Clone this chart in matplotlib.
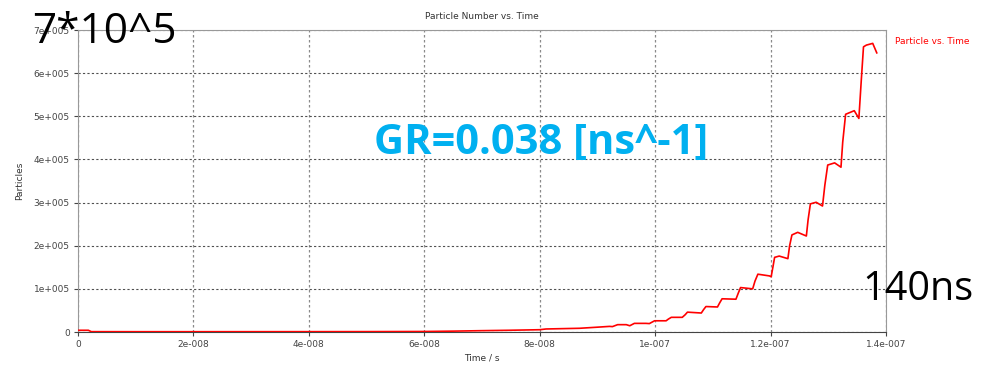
import numpy as np
import matplotlib
matplotlib.use("Agg")
import matplotlib.pyplot as plt

# time in ns, particle count
time_ns = [0, 1.8, 2.3, 10, 20, 30, 40, 50, 60, 65, 69.5, 74.7, 80, 81.1, 86.9,
           89.8, 92.1, 92.6, 93.5, 95.0, 95.6, 96.4, 98.4, 99.0, 99.9, 101.9,
           102.3, 102.8, 104.7, 105.2, 105.6, 108.0, 108.4, 108.8, 110.8, 111.2,
           111.6, 114.0, 114.4, 114.8, 116.9, 117.3, 117.8, 119.8, 120.1, 120.4,
           120.7, 121.5, 123.0, 123.3, 123.7, 124.7, 126.2, 126.5, 126.9, 127.9,
           129.0, 129.4, 129.9, 131.1, 132.2, 132.5, 133.0, 134.5, 135.3, 135.7,
           136.1, 136.6, 137.7, 138.4]
particles = [4000, 4000, 800, 700, 700, 750, 800, 900, 1200, 2000, 3000, 4000,
             5300, 7000, 8600, 11000, 13000, 12500, 17000, 17000, 14500, 20000,
             20000, 19500, 26000, 26000, 30000, 34000, 34000, 40000, 46000, 44000,
             52000, 59000, 58000, 68000, 77000, 76000, 90000, 103000, 100000,
             118000, 134000, 130000, 128000, 150000, 173000, 176000, 170000,
             200000, 225000, 231000, 222500, 260000, 297000, 300700, 292000,
             340000, 387000, 392000, 382000, 440000, 504600, 513000, 495000,
             580000, 661000, 665000, 669000, 647000]

t = np.array(time_ns) * 1e-9
p = np.array(particles)

x_ticks = [0, 2e-8, 4e-8, 6e-8, 8e-8, 1e-7, 1.2e-7, 1.4e-7]
x_labels = ["0", "2e-008", "4e-008", "6e-008", "8e-008", "1e-007", "1.2e-007", "1.4e-007"]
y_ticks = [0, 1e5, 2e5, 3e5, 4e5, 5e5, 6e5, 7e5]
y_labels = ["0", "1e+005", "2e+005", "3e+005", "4e+005", "5e+005", "6e+005", "7e+005"]

fig = plt.figure(figsize=(9.82, 3.71), dpi=100)
ax = fig.add_axes([78 / 982, 39 / 371, 808 / 982, 302 / 371])

ax.plot(t, p, color="red", lw=1.2, zorder=3)

ax.set_xlim(0, 1.4e-7)
ax.set_ylim(0, 7e5)
ax.set_xticks(x_ticks)
ax.set_xticklabels(x_labels)
ax.set_yticks(y_ticks)
ax.set_yticklabels(y_labels)
ax.tick_params(labelsize=6.5, length=3, width=0.8, colors="#444444", pad=3)
ax.xaxis.grid(True, color="#8a8a8a", linestyle=(0, (2, 2)), lw=0.9)
ax.yaxis.grid(True, color="#505050", linestyle=(0, (2, 2)), lw=0.8)

for s in ["top", "right", "left"]:
    ax.spines[s].set_color("#999999")
ax.spines["bottom"].set_color("#444444")

ax.set_title("Particle Number vs. Time", fontsize=6.5, color="#333333", pad=8)
ax.set_xlabel("Time / s", fontsize=6.5, color="#333333", labelpad=3)
ax.set_ylabel("Particles", fontsize=6.5, color="#333333", labelpad=7)

fig.text(895 / 982, 1 - 41 / 371, "Particle vs. Time", color="red", fontsize=6.5,
         va="center", ha="left")

fig.text(32 / 982, 1 - 32 / 371, "7*10^5", fontsize=30.5, family="Open Sans",
         va="center", ha="left", color="black")
fig.text(541 / 982, 1 - 144 / 371, "GR=0.038 [ns^-1]", fontsize=30,
         family="Open Sans", weight="bold", color="#00B0F0", va="center", ha="center")
fig.text(862 / 982, 1 - 290 / 371, "140ns", fontsize=28.5, family="Open Sans",
         va="center", ha="left", color="black")

fig.savefig("out.png", dpi=100)
